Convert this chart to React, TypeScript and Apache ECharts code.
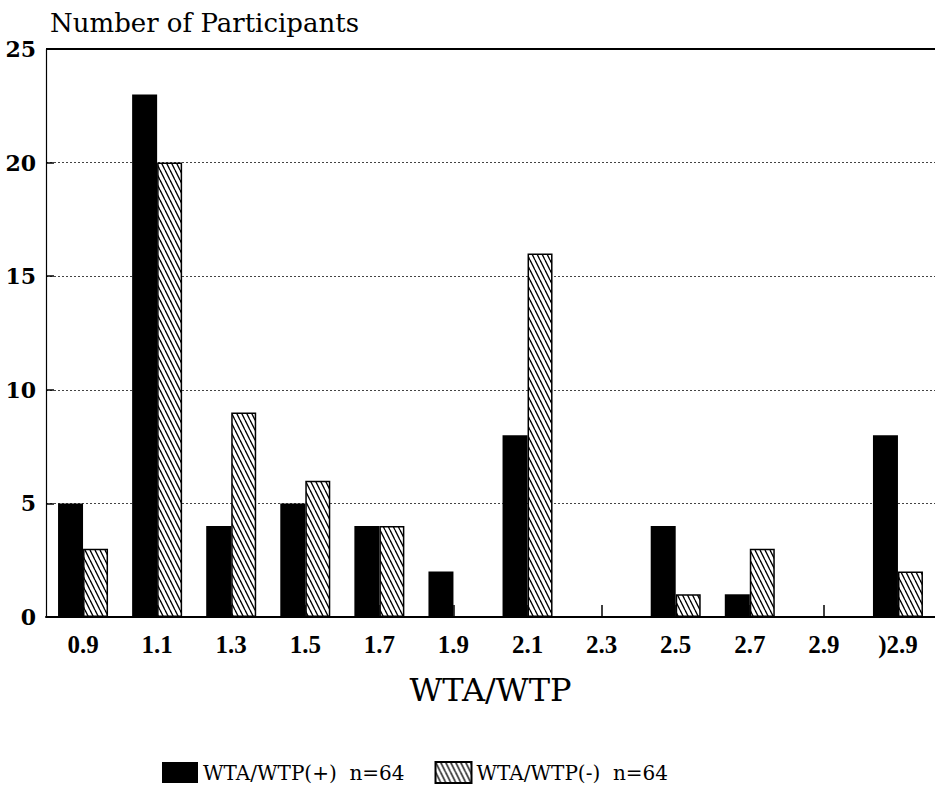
import React, { useEffect, useRef } from "react";
import * as echarts from "echarts";

const categories = ["0.9", "1.1", "1.3", "1.5", "1.7", "1.9", "2.1", "2.3", "2.5", "2.7", "2.9", ")2.9"];
const plusValues = [5, 23, 4, 5, 4, 2, 8, 0, 4, 1, 0, 8];
const minusValues = [3, 20, 9, 6, 4, 0, 16, 0, 1, 3, 0, 2];
const seriesNames = ["WTA/WTP(+)  n=64", "WTA/WTP(-)  n=64"];
const yTitle = "Number of Participants";
const xTitle = "WTA/WTP";
const yMax = 25;
const yStep = 5;

function makeHatch(): HTMLCanvasElement {
  const c = document.createElement("canvas");
  c.width = 5;
  c.height = 10;
  const ctx = c.getContext("2d")!;
  ctx.fillStyle = "#fff";
  ctx.fillRect(0, 0, 5, 10);
  ctx.strokeStyle = "#000";
  ctx.lineWidth = 1.3;
  for (const dx of [-5, 0, 5]) {
    ctx.beginPath();
    ctx.moveTo(dx, 0);
    ctx.lineTo(dx + 5, 10);
    ctx.stroke();
  }
  return c;
}

export default function App() {
  const ref = useRef<HTMLDivElement>(null);
  useEffect(() => {
    document.body.style.margin = "0";
    if (!ref.current) return;
    const chart = echarts.init(ref.current, undefined, { renderer: "svg" });
    const hatch = makeHatch();
    const serif = "DejaVu Serif";
    chart.setOption({
      animation: false,
      backgroundColor: "#fff",
      title: {
        text: yTitle,
        left: 45,
        top: 5,
        textStyle: { fontFamily: serif, fontSize: 26, fontWeight: "normal", color: "#000" },
      },
      legend: {
        left: 157,
        top: 756,
        itemWidth: 36,
        itemHeight: 21,
        itemGap: 30,
        icon: "rect",
        textStyle: { fontFamily: serif, fontSize: 20, color: "#000" },
        data: seriesNames,
      },
      grid: { left: 46, top: 49, width: 893, height: 568, containLabel: false },
      xAxis: {
        type: "category",
        data: categories,
        name: xTitle,
        nameLocation: "middle",
        nameGap: 57,
        nameTextStyle: { fontFamily: serif, fontSize: 32, color: "#000" },
        axisLine: { show: true, lineStyle: { color: "#000", width: 2 } },
        axisTick: { show: true, inside: true, alignWithLabel: true, length: 12, lineStyle: { color: "#000", width: 1.5 } },
        axisLabel: { fontFamily: "Liberation Serif", fontSize: 25, fontWeight: "bold", color: "#000", margin: 15 },
      },
      yAxis: {
        type: "value",
        min: 0,
        max: yMax,
        interval: yStep,
        axisLine: { show: true, lineStyle: { color: "#000", width: 1.2 } },
        axisTick: { show: true, inside: true, length: 8, lineStyle: { color: "#000", width: 1.5 } },
        axisLabel: { fontFamily: serif, fontSize: 22, fontWeight: "bold", color: "#000", margin: 10 },
        splitLine: { show: true, lineStyle: { color: "#444", width: 1, type: [2, 2] } },
      },
      series: [
        {
          name: seriesNames[0],
          type: "bar",
          data: plusValues,
          barWidth: 25,
          barGap: "0%",
          itemStyle: { color: "#000" },
          markLine: {
            silent: true,
            symbol: "none",
            label: { show: false },
            lineStyle: { color: "#000", width: 2, type: "solid" },
            data: [{ yAxis: yMax }],
          },
        },
        {
          name: seriesNames[1],
          type: "bar",
          data: minusValues,
          barWidth: 25,
          barGap: "0%",
          itemStyle: {
            color: { image: hatch, repeat: "repeat" },
            borderColor: "#000",
            borderWidth: 1.5,
          },
        },
      ],
    });
    return () => chart.dispose();
  }, []);
  return <div ref={ref} style={{ width: 935, height: 797 }} />;
}
